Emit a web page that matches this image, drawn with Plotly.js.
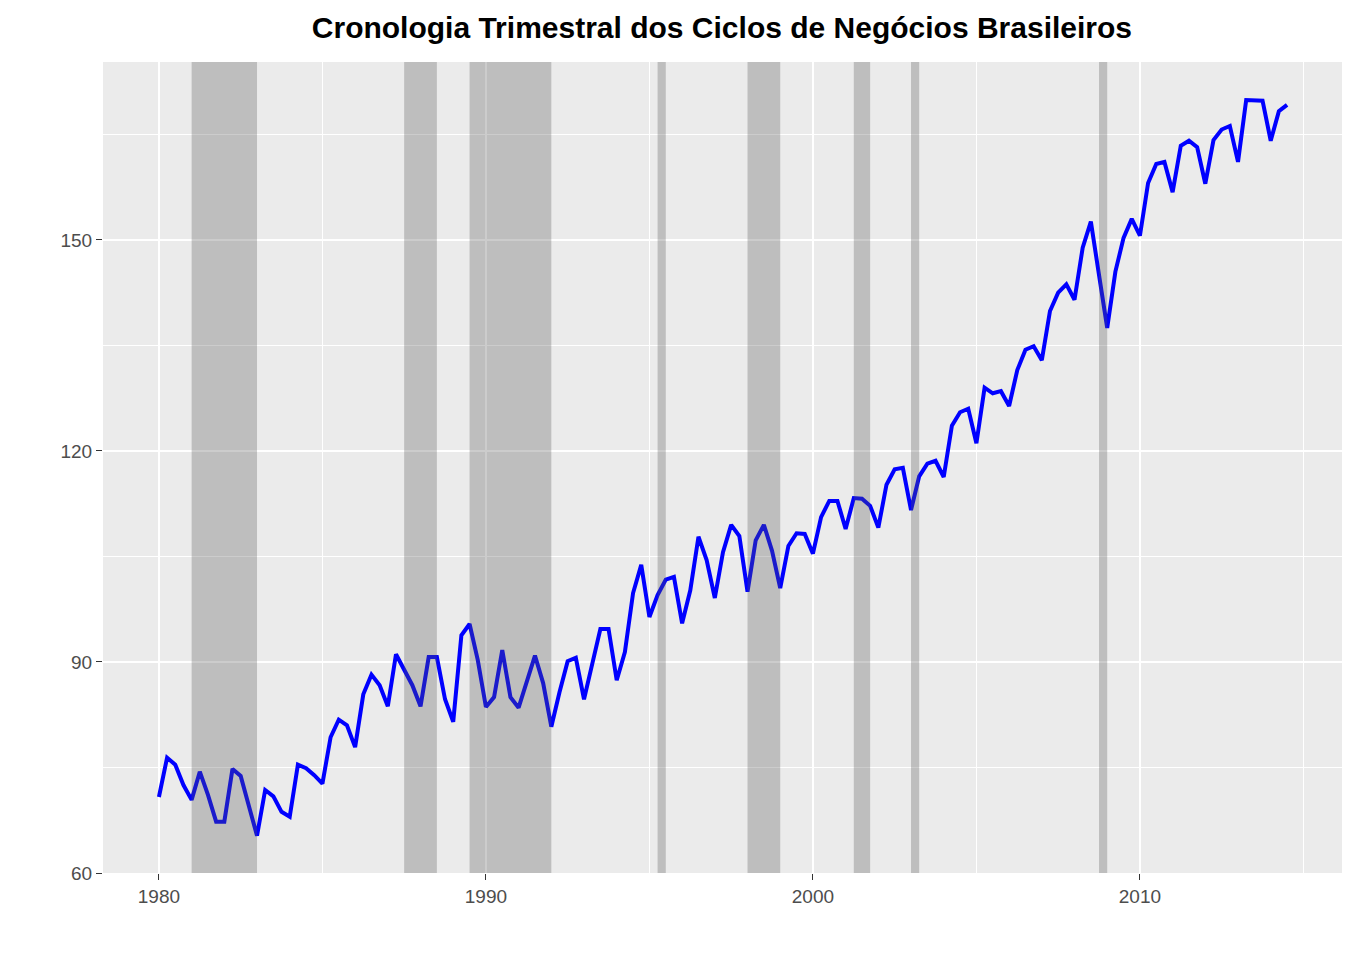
<!DOCTYPE html>
<html>
<head>
<meta charset="utf-8">
<script src="https://cdn.plot.ly/plotly-3.0.1.min.js"></script>
<style>body{margin:0;background:#fff}#chart{width:1357px;height:960px}</style>
</head>
<body>
<div id="chart"></div>
<script>
// quarterly index, 1980Q1 .. 2014Q3
var startYear = 1980;
var pib = [
  70.8, 76.4, 75.4, 72.5,  70.4, 74.4, 71.1, 67.3,  67.3, 74.8, 73.8, 69.7,
  65.3, 71.8, 70.9, 68.7,  68.0, 75.4, 74.9, 73.9,  72.7, 79.3, 81.8, 81.0,
  77.9, 85.4, 88.2, 86.7,  83.7, 91.1, 88.9, 86.7,  83.7, 90.7, 90.7, 84.7,
  81.5, 93.8, 95.4, 90.3,  83.6, 85.0, 91.7, 85.0,  83.5, 87.4, 90.9, 87.0,
  80.8, 85.7, 90.1, 90.6,  84.7, 89.7, 94.7, 94.7,  87.4, 91.4, 99.8, 103.8,
  96.4, 99.5, 101.7, 102.1, 95.5, 100.2, 107.8, 104.5, 99.1, 105.6, 109.5, 107.9,
  100.0, 107.3, 109.5, 105.8, 100.5, 106.5, 108.3, 108.2, 105.4, 110.6, 112.9, 112.9,
  108.9, 113.3, 113.2, 112.2, 109.1, 115.2, 117.4, 117.6, 111.6, 116.4, 118.2, 118.6,
  116.3, 123.6, 125.5, 126.0, 121.1, 129.0, 128.2, 128.5, 126.4, 131.5, 134.4, 134.9,
  132.9, 139.9, 142.5, 143.7, 141.5, 148.9, 152.6, 145.0, 137.5, 145.5, 150.3, 153.0,
  150.6, 158.1, 160.8, 161.1, 156.8, 163.4, 164.1, 163.2, 158.0, 164.2, 165.7, 166.2,
  161.1, 169.9, 169.8, 169.8, 164.1, 168.3, 169.2
];
// recession periods (CODACE), start / end as decimal years
var recStart = [1981.0, 1987.5, 1989.5, 1995.25, 1998.0, 2001.25, 2003.0, 2008.75];
var recEnd   = [1983.0, 1988.5, 1992.0, 1995.5, 1999.0, 2001.75, 2003.25, 2009.0];

var xs = pib.map(function (v, i) { return startYear + i / 4; });

var shapes = recStart.map(function (s, i) {
  return {
    type: 'rect', xref: 'x', yref: 'paper', x0: s, x1: recEnd[i], y0: 0, y1: 1,
    fillcolor: 'rgba(87,87,87,0.3)', line: {width: 0}, layer: 'above'
  };
});

var data = [{
  type: 'scatter', mode: 'lines', x: xs, y: pib,
  line: {color: '#0000FF', width: 4}, hoverinfo: 'x+y'
}];

var layout = {
  width: 1357, height: 960,
  margin: {l: 103, r: 15, t: 62, b: 87},
  paper_bgcolor: '#FFFFFF', plot_bgcolor: '#EBEBEB',
  showlegend: false,
  title: {text: '<b>Cronologia Trimestral dos Ciclos de Negócios Brasileiros</b>',
          font: {family: 'Liberation Sans, Arial, sans-serif', size: 30, color: '#000'},
          x: 0.532, xanchor: 'center', y: 0.971, yanchor: 'middle'},
  xaxis: {
    range: [1978.29, 2016.18], tickvals: [1980, 1990, 2000, 2010],
    showgrid: true, gridcolor: '#FFFFFF', gridwidth: 2, zeroline: false,
    minor: {tickvals: [1985, 1995, 2005, 2015], showgrid: true, gridcolor: '#FFFFFF', gridwidth: 1},
    ticks: 'outside', ticklen: 6, tickcolor: '#333', tickwidth: 1,
    tickfont: {family: 'Liberation Sans, Arial, sans-serif', size: 19, color: '#4D4D4D'}
  },
  yaxis: {
    range: [60, 175.3], tickvals: [60, 90, 120, 150],
    showgrid: true, gridcolor: '#FFFFFF', gridwidth: 2, zeroline: false,
    minor: {tickvals: [75, 105, 135, 165], showgrid: true, gridcolor: '#FFFFFF', gridwidth: 1},
    ticks: 'outside', ticklen: 6, tickcolor: '#333', tickwidth: 1,
    tickfont: {family: 'Liberation Sans, Arial, sans-serif', size: 19, color: '#4D4D4D'}
  },
  shapes: shapes
};

Plotly.newPlot('chart', data, layout, {displayModeBar: false});
</script>
</body>
</html>
